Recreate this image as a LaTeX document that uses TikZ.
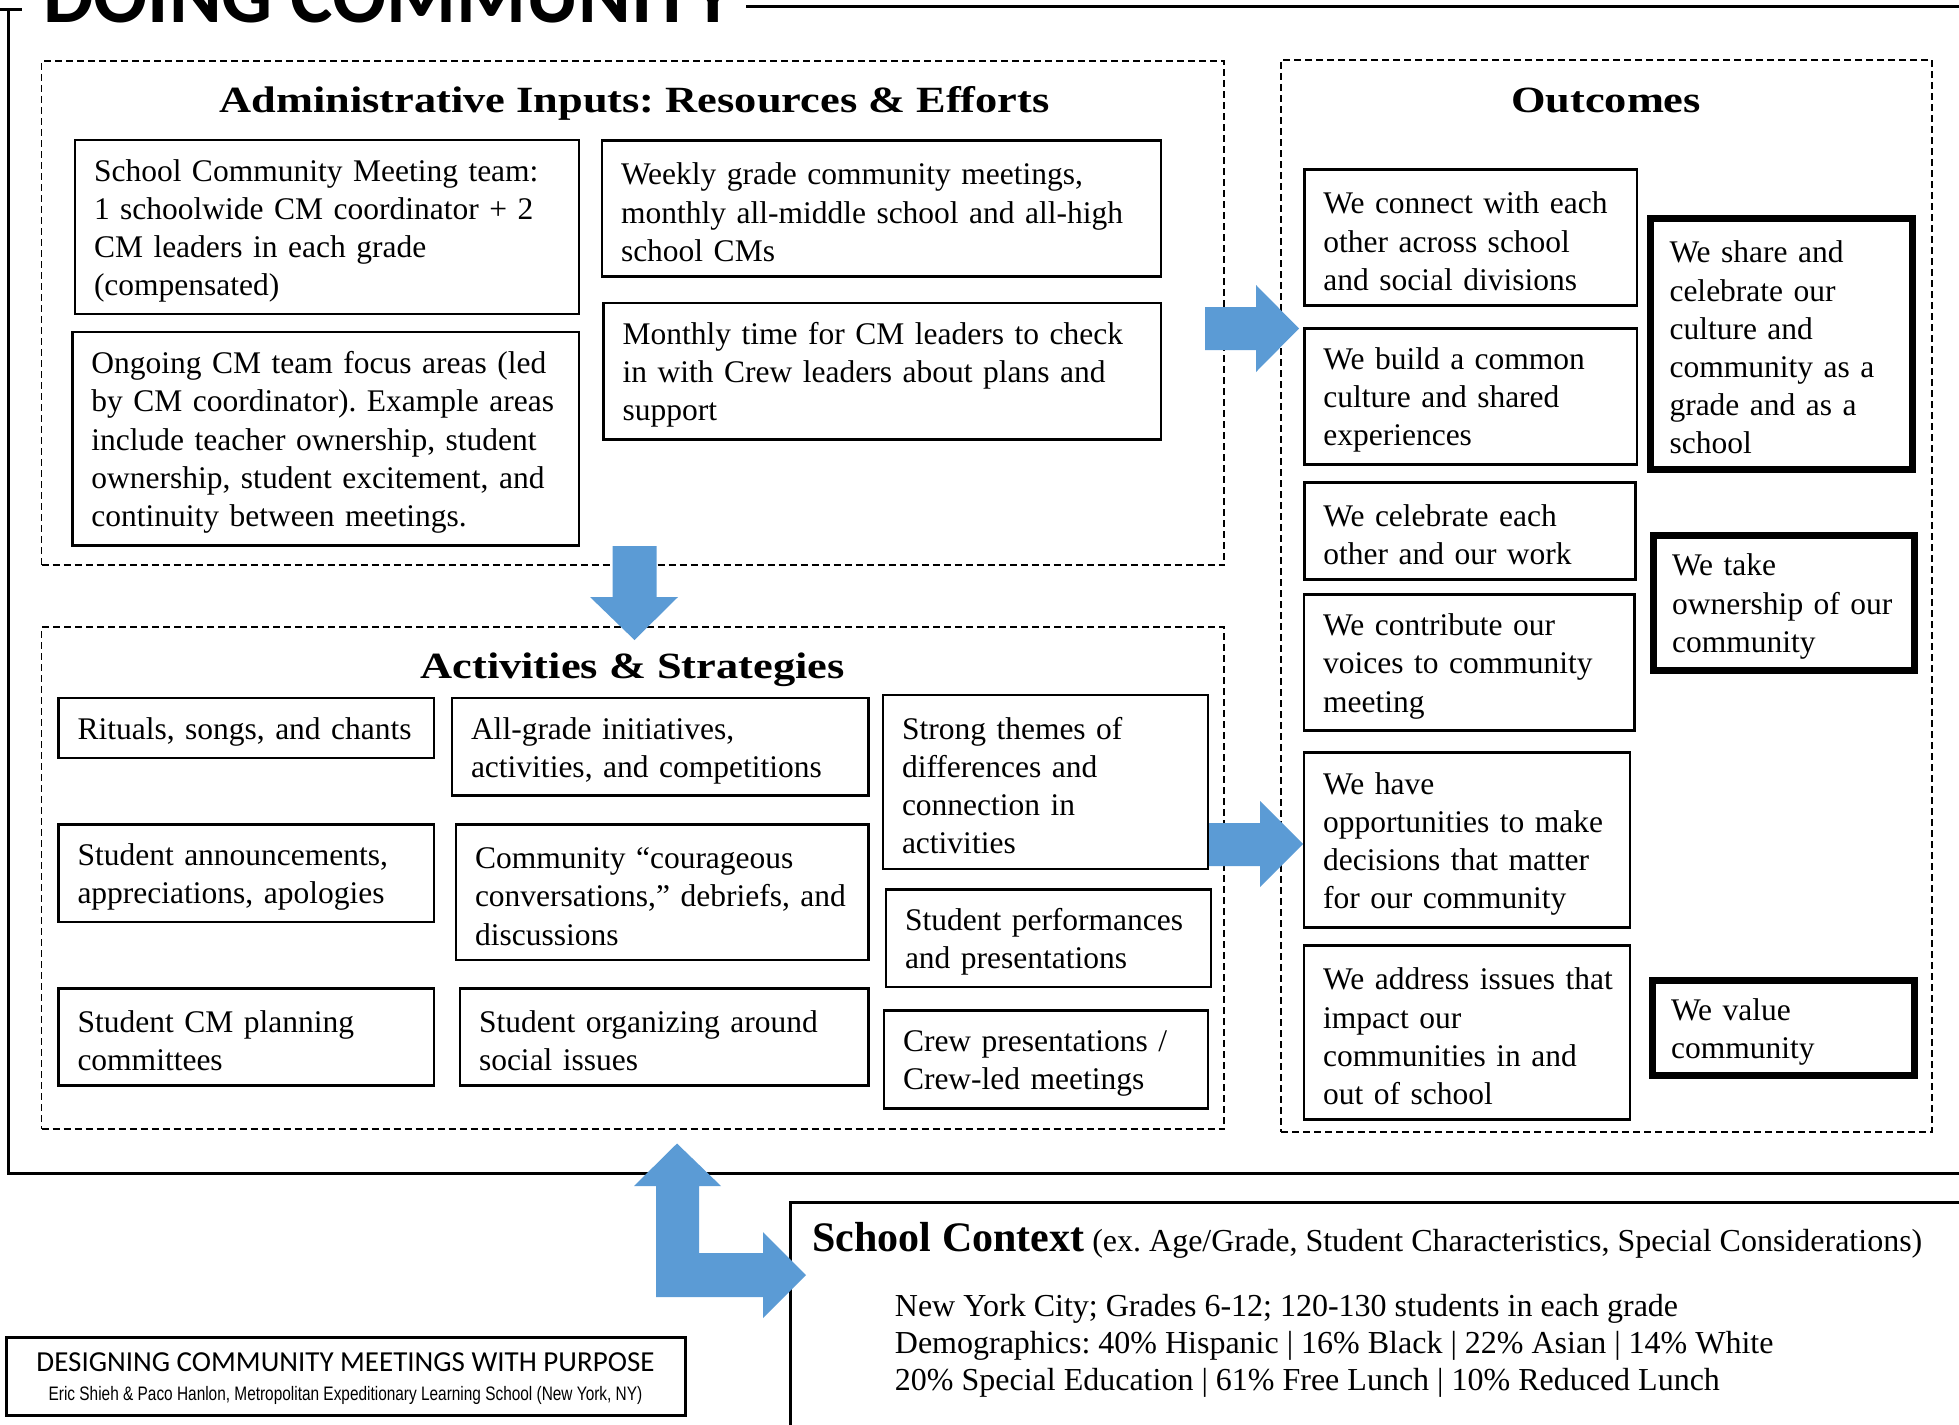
\documentclass[tikz,border=0pt]{standalone}
\usepackage{fontspec}
\setmainfont{Liberation Serif}
\newfontfamily\headfont[FakeStretch=1.2]{Liberation Serif}
\newfontfamily\titlefont{Carlito}
\newfontfamily\narrowfont[FakeStretch=0.79]{Liberation Sans}
\definecolor{arrowblue}{HTML}{5B9BD5}
\newcommand{\bodysize}{\fontsize{31.5}{38.2}\selectfont}

\begin{document}
\frenchspacing
\begin{tikzpicture}[x=1pt, y=-1pt,
        box/.style={draw, line width=2.5pt, outer sep=0pt, inner xsep=19pt, inner ysep=0pt,
            anchor=north west, align=left, text height=29.5pt, font=\bodysize,
            execute at begin node={\rightskip=-14pt plus 1fil}},
        strongbox/.style={box, line width=7pt},
        group/.style={draw, line width=1.8pt, dash pattern=on 7pt off 4pt, outer sep=0pt,
            anchor=north west},
        heading/.style={anchor=base, inner sep=0pt, font=\headfont\bfseries\fontsize{37}{44}\selectfont},
        plain/.style={anchor=base west, inner sep=0pt, font=\fontsize{32}{37.7}\selectfont},
        frame/.style={draw, line width=3pt, outer sep=0pt, anchor=north west},
        blockarrow/.style={fill=arrowblue}]
        \useasboundingbox (0, 0) rectangle (1959, 1424);
        \clip (0, 0) rectangle (1959, 1424);

        \draw[line width=3pt] (0, 9) to (22, 9);
        \draw[line width=3pt] (8, 9) to (8, 1173) to (1970, 1173);
        \draw[line width=3pt] (746, 6) to (1970, 6);
        \node[anchor=base west, inner sep=0pt, font=\titlefont\bfseries\fontsize{80}{90}\selectfont] (title) at (43, 22) {DOING COMMUNITY};

        \node[group, minimum width=1182.5pt, minimum height=504pt] (inputs) at (41.5, 61) {};
        \node[heading] (inputstitle) at (634.5, 112) {Administrative Inputs: Resources \& Efforts};
            \node[box, text width=466pt, minimum height=174pt] (team) at (75, 140) {School Community Meeting team:\\1 schoolwide CM coordinator + 2\\CM leaders in each grade\\(compensated)};
            \node[box, text width=468.6pt, minimum height=213.5pt] (focus) at (72.4, 332) {Ongoing CM team focus areas (led\\by CM coordinator). Example areas\\include teacher ownership, student\\ownership, student excitement, and\\continuity between meetings.};
            \node[box, text width=521pt, minimum height=136pt] (weekly) at (602, 140.5) {Weekly grade community meetings,\\monthly all-middle school and all-high\\school CMs};
            \node[box, text width=519.4pt, minimum height=136.4pt] (monthly) at (603.6, 303) {Monthly time for CM leaders to check\\in with Crew leaders about plans and\\support};

        \node[group, minimum width=1182.5pt, minimum height=502pt] (activities) at (41.5, 627.3) {};
        \node[heading] (activitiestitle) at (632.5, 678.5) {Activities \& Strategies};
            \node[box, text width=337.3pt, minimum height=60pt] (rituals) at (58.5, 698) {Rituals, songs, and chants};
            \node[box, text width=337.3pt, minimum height=97.6pt] (announce) at (58.5, 824.4) {Student announcements,\\appreciations, apologies};
            \node[box, text width=337.3pt, minimum height=96.8pt] (planning) at (58.5, 988.5) {Student CM planning\\committees};
            \node[box, text width=378.3pt, minimum height=97.6pt] (allgrade) at (452, 698) {All-grade initiatives,\\activities, and competitions};
            \node[box, text width=374.3pt, minimum height=135.8pt] (courage) at (456, 824.4) {Community “courageous\\conversations,” debriefs, and\\discussions};
            \node[box, text width=370.3pt, minimum height=96.8pt] (organize) at (460, 988.5) {Student organizing around\\social issues};
            \node[box, text width=287.2pt, minimum height=174pt] (themes) at (883, 695) {Strong themes of\\differences and\\connection in\\activities};
            \node[box, text width=287pt, minimum height=97.6pt] (perform) at (886, 889.4) {Student performances\\and presentations};
            \node[box, text width=286.2pt, minimum height=97.6pt] (crew) at (884, 1010.7) {Crew presentations /\\Crew-led meetings};

        \node[group, minimum width=651pt, minimum height=1072pt] (outcomes) at (1281, 60) {};
        \node[heading] (outcomestitle) at (1606, 112) {Outcomes};
            \node[box, text width=294.7pt, minimum height=136.4pt] (connect) at (1304.3, 169.3) {We connect with each\\other across school\\and social divisions};
            \node[box, text width=294.7pt, minimum height=136pt] (build) at (1304.3, 328.3) {We build a common\\culture and shared\\experiences};
            \node[box, text width=293.2pt, minimum height=96.6pt] (celebrate) at (1304.3, 482.7) {We celebrate each\\other and our work};
            \node[box, text width=292.3pt, minimum height=136pt] (voices) at (1304.2, 594.6) {We contribute our\\voices to community\\meeting};
            \node[box, text width=287.8pt, minimum height=175pt] (decide) at (1304.2, 752.7) {We have\\opportunities to make\\decisions that matter\\for our community};
            \node[box, text width=287.8pt, minimum height=174pt] (issues) at (1304.2, 945.6) {We address issues that\\impact our\\communities in and\\out of school};
            \node[strongbox, text width=223.5pt, minimum height=251.5pt] (share) at (1650.5, 218) {We share and\\celebrate our\\culture and\\community as a\\grade and as a\\school};
            \node[strongbox, text width=223pt, minimum height=134.7pt] (ownership) at (1653, 535.3) {We take\\ownership of our\\community};
            \node[strongbox, text width=224pt, minimum height=95.5pt] (value) at (1652, 980) {We value\\community};

        \node[frame, minimum width=1300pt, minimum height=400pt] (context) at (790.7, 1202.3) {};
        \node[plain] (contexttitle) at (812.3, 1251.7) {{\bfseries\fontsize{42}{48}\selectfont School Context} (ex. Age/Grade, Student Characteristics, Special Considerations)};
        \node[plain] (city) at (894.7, 1316.7) {New York City; Grades 6-12; 120-130 students in each grade};
        \node[plain] (demo) at (894.7, 1353) {Demographics: 40\% Hispanic | 16\% Black | 22\% Asian | 14\% White};
        \node[plain] (lunch) at (894.7, 1390) {20\% Special Education | 61\% Free Lunch | 10\% Reduced Lunch};

        \node[frame, minimum width=679pt, minimum height=78.4pt] (credit) at (6, 1337.3) {};
        \node[anchor=base, inner sep=0pt, font=\titlefont\fontsize{29}{34}\selectfont] (credittitle) at (345.5, 1371.7) {DESIGNING COMMUNITY MEETINGS WITH PURPOSE};
        \node[anchor=base, inner sep=0pt, font=\narrowfont\fontsize{19.5}{24}\selectfont] (creditnames) at (345.5, 1400) {Eric Shieh \& Paco Hanlon, Metropolitan Expeditionary Learning School (New York, NY)};

        \fill[blockarrow] (1205, 307) -- (1256, 307) -- (1256, 285) -- (1299, 328.5) -- (1256, 372) -- (1256, 350) -- (1205, 350) -- cycle;
        \fill[blockarrow] (612.5, 546) -- (656.5, 546) -- (656.5, 597) -- (678, 597) -- (634.5, 640) -- (590, 597) -- (612.5, 597) -- cycle;
        \fill[blockarrow] (1209, 823) -- (1260, 823) -- (1260, 801) -- (1303, 844) -- (1260, 887) -- (1260, 866) -- (1209, 866) -- cycle;
        \fill[blockarrow] (677, 1143.5) -- (721, 1186) -- (699, 1186) -- (699, 1253) -- (763, 1253) -- (763, 1232) -- (806, 1275) -- (763, 1318) -- (763, 1297) -- (656, 1297) -- (656, 1186) -- (634, 1186) -- cycle;
    \end{tikzpicture}
\end{document}
